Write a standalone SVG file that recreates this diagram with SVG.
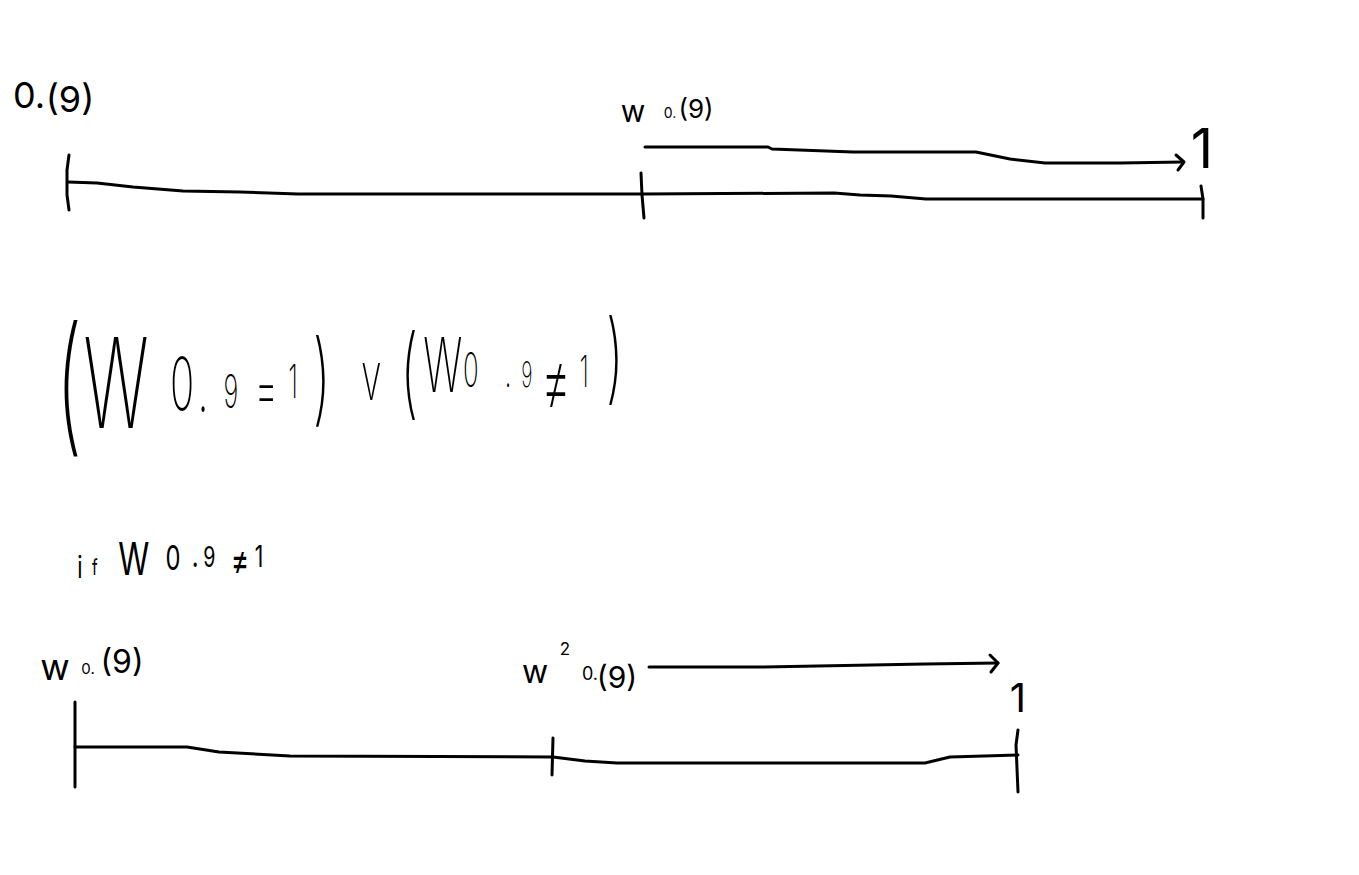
<svg xmlns="http://www.w3.org/2000/svg" width="1359" height="875" viewBox="0 0 1359 875">
<style>
.ln{fill:none;stroke:#000;stroke-width:3;stroke-linejoin:round;stroke-linecap:round}
.hw{font-family:Inter,'Open Sans','DejaVu Sans',sans-serif;fill:#000;font-weight:400;text-anchor:middle}
.big{font-weight:200}
</style>
<rect width="1359" height="875" fill="#fff"/>
<g id="top-axis">
<path class="ln" d="M68,182 L97,183 L133,187 L183,191 L240,192 L298,194 L643,194 L834,193 L860,195 L891,196 L926,199 L1203,199"/>
<path class="ln" d="M69,155 L67,170 L67,195 L69,210"/>
<path class="ln" d="M641,173 L642,195 L644,218"/>
<path class="ln" d="M1201,186 L1203,199 L1203,218"/>
</g>
<g id="label-top-0">
<text class="hw"><tspan x="29" y="108" font-size="36">0.</tspan><tspan x="70" y="112" font-size="36">(9)</tspan></text>
</g>
<g id="label-top-w">
<text class="hw"><tspan x="633" y="122" font-size="30">w</tspan><tspan x="670" y="118" font-size="14">0.</tspan><tspan x="696" y="118" font-size="26">(9)</tspan></text>
</g>
<g id="label-top-1">
<text class="hw" x="1202" y="168" font-size="55">1</text>
</g>
<g id="formula">
<text class="hw big" transform="scale(0.55 1)"><tspan x="125.5" y="436" font-size="150">(</tspan><tspan x="211" y="428" font-size="125">W</tspan><tspan x="331" y="410" font-size="73">0</tspan><tspan x="369" y="412" font-size="73">.</tspan><tspan x="420" y="408" font-size="46">9</tspan><tspan x="484" y="412" font-size="66">=</tspan><tspan x="533" y="398" font-size="46">1</tspan><tspan x="599" y="413" font-size="101">) </tspan><tspan x="684.5" y="400" font-size="68">v </tspan><tspan x="744" y="406" font-size="99">(</tspan><tspan x="805" y="392" font-size="75">W</tspan><tspan x="856" y="387" font-size="47">0</tspan><tspan x="924" y="387" font-size="47">.</tspan><tspan x="958" y="387" font-size="35">9</tspan><tspan x="1011" y="411" font-size="90">≠</tspan><tspan x="1062" y="387" font-size="44">1</tspan><tspan x="1118" y="391" font-size="99">)</tspan></text>
</g>
<g id="condition">
<text class="hw" transform="scale(0.7 1)"><tspan x="114" y="578" font-size="31">i</tspan><tspan x="138.5" y="575" font-size="22">f </tspan><tspan x="191" y="575" font-size="45">W</tspan><tspan x="247" y="570" font-size="34">0</tspan><tspan x="279" y="567" font-size="34">.</tspan><tspan x="299" y="567" font-size="28">9</tspan><tspan x="343" y="574" font-size="40">≠</tspan><tspan x="370" y="567" font-size="30">1</tspan></text>
</g>
<g id="bottom-axis">
<path class="ln" d="M75,747 L187,747 L219,752 L290,756 L553,757 L585,761 L617,763 L925,763 L950,757 L1018,755"/>
<path class="ln" d="M75,702 L75,787"/>
<path class="ln" d="M553,738 L552,775"/>
<path class="ln" d="M1018,730 L1016,745 L1018,792"/>
</g>
<g id="label-bottom-w">
<text class="hw"><tspan x="55" y="680" font-size="36">w</tspan><tspan x="88" y="674" font-size="15">0.</tspan><tspan x="122" y="673" font-size="32">(9)</tspan></text>
</g>
<g id="label-bottom-w2">
<text class="hw"><tspan x="535" y="683" font-size="32">w</tspan><tspan x="565" y="655" font-size="17">2</tspan><tspan x="590" y="680" font-size="18">0.</tspan><tspan x="617" y="688" font-size="30">(9)</tspan></text>
</g>
<g id="label-bottom-1">
<text class="hw" x="1018" y="712" font-size="40">1</text>
</g>
<g id="connectors">
<path class="ln" d="M645,147 L768,147 L772,149 L853,152 L976,152 L1010,159 L1045,163 L1120,163 L1183,162"/>
<path class="ln" d="M1176,155 L1184,162 L1178,170"/>
<path class="ln" d="M649,667 L764,667 L925,664 L998,663"/>
<path class="ln" d="M990,655 L998,663 L991,672"/>
</g>
</svg>
